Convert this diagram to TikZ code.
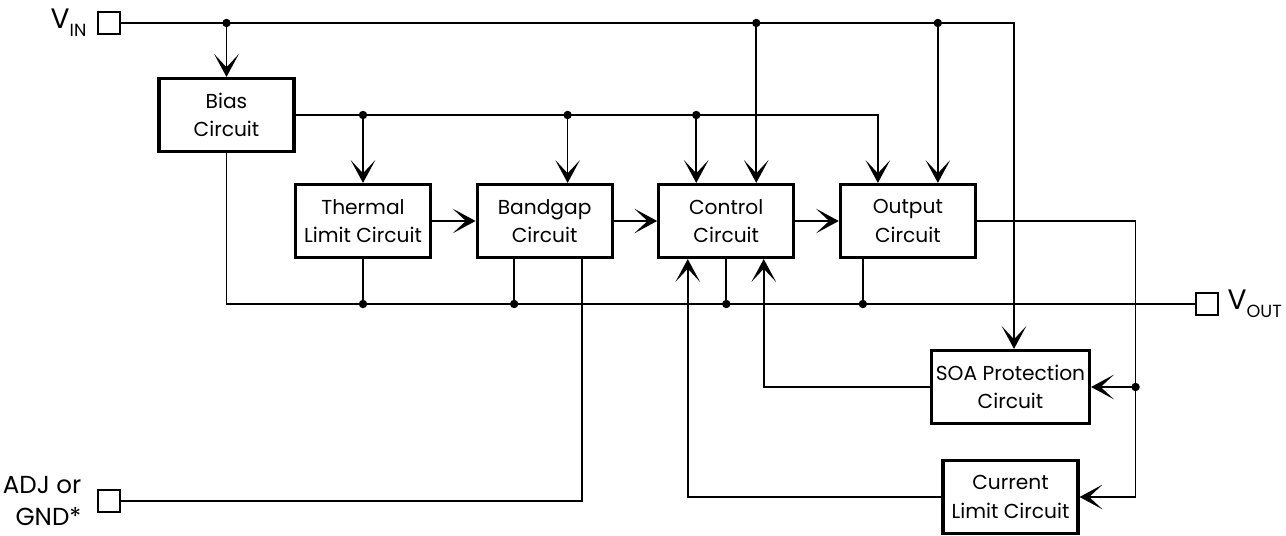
\documentclass[tikz,border=0pt]{standalone}
\usepackage{fontspec}
\setmainfont{Poppins}
\usetikzlibrary{arrows.meta,positioning}
\tikzset{
  blockbox/.style={draw, line width=1.8pt, align=center, minimum width=2.70cm,
    minimum height=1.46cm, inner sep=2pt, font=\fontsize{11.5}{16}\selectfont},
  pinbox/.style={draw, line width=0.6pt, minimum size=0.44cm, inner sep=0pt},
  pinlabel/.style={inner sep=1pt, font=\fontsize{14}{18}\selectfont},
  wire/.style={line width=0.9pt},
  arr/.style={wire, -{Stealth[length=13pt,width=14pt,inset=7.5pt]}},
  junc/.style={circle, fill, inner sep=0pt, minimum size=4.8pt}
}
\newcommand{\pinsub}[1]{\raisebox{-0.5ex}{\fontsize{10}{10}\selectfont #1}}

\begin{document}
\begin{tikzpicture}[x=0.02cm, y=-0.02cm, node distance=0.87cm]
    \useasboundingbox (0,0) rectangle (1286,536);
    % pins
    \node[pinbox] (vin) at (109,23) {};
    \node[pinbox] (vout) at (1207,304) {};
    \node[pinbox] (adj) at (109,501) {};
    \node[pinlabel, font=\fontsize{16}{18}\selectfont, left=0.18cm of vin] (vinlbl) {V\pinsub{IN}};
    \node[pinlabel, font=\fontsize{16}{18}\selectfont, right=0.14cm of vout] (voutlbl) {V\pinsub{OUT}};
    \node[pinlabel, align=right, left=0.28cm of adj] (adjlbl) {ADJ or\\GND*};
    % blocks
    \node[blockbox] (bias) at (226.5,115) {Bias\\Circuit};
    \node[blockbox] (thermal) at (363,221) {Thermal\\Limit Circuit};
    \node[blockbox, right=of thermal] (bandgap) {Bandgap\\Circuit};
    \node[blockbox, right=of bandgap] (control) {Control\\Circuit};
    \node[blockbox, right=of control] (output) {Output\\Circuit};
    \node[blockbox, minimum width=3.16cm] (soa) at (1010.5,387) {SOA Protection\\Circuit};
    \node[blockbox] (current) at (1010.5,497) {Current\\Limit Circuit};
    % tap points
    \coordinate (bgIn) at ([xshift=0.46cm]bandgap.north);
    \coordinate (ctrlA) at ([xshift=-0.6cm]control.north);
    \coordinate (ctrlB) at ([xshift=0.6cm]control.north);
    \coordinate (outA) at ([xshift=-0.6cm]output.north);
    \coordinate (outB) at ([xshift=0.6cm]output.north);
    \coordinate (bgGnd) at ([xshift=-0.61cm]bandgap.south);
    \coordinate (bgAdj) at ([xshift=0.75cm]bandgap.south);
    \coordinate (ctrlCl) at ([xshift=-0.77cm]control.south);
    \coordinate (ctrlSoa) at ([xshift=0.75cm]control.south);
    \coordinate (outGnd) at ([xshift=-0.9cm]output.south);
    \coordinate (soaIn) at ([xshift=0.07cm]soa.north);
    \coordinate (tap) at ([xshift=1.12cm]current.east);
    % supply
    \draw[arr] (vin.east) -| (soaIn);
    \foreach \p in {bias.north, ctrlB, outB} {
      \node[junc] at (\p |- vin.east) {};
      \draw[arr] (\p |- vin.east) -- (\p);
    }
    % bias line
    \draw[arr] (bias.east) -| (outA);
    \foreach \p in {thermal.north, bgIn, ctrlA} {
      \node[junc] at (\p |- bias.east) {};
      \draw[arr] (\p |- bias.east) -- (\p);
    }
    % signal chain
    \draw[arr] (thermal) -- (bandgap);
    \draw[arr] (bandgap) -- (control);
    \draw[arr] (control) -- (output);
    % output rail
    \draw[wire] (bias.south) |- (vout.west);
    \foreach \p in {thermal.south, bgGnd, control.south, outGnd} {
      \node[junc] at (\p |- vout.west) {};
      \draw[wire] (\p) -- (\p |- vout.west);
    }
    \draw[wire] (adj.east) -| (bgAdj);
    % protection loops
    \draw[arr] (output.east) -| (tap) -- (current.east);
    \node[junc] at (tap |- soa.east) {};
    \draw[arr] (tap |- soa.east) -- (soa.east);
    \draw[arr] (soa.west) -| (ctrlSoa);
    \draw[arr] (current.west) -| (ctrlCl);
\end{tikzpicture}
\end{document}
